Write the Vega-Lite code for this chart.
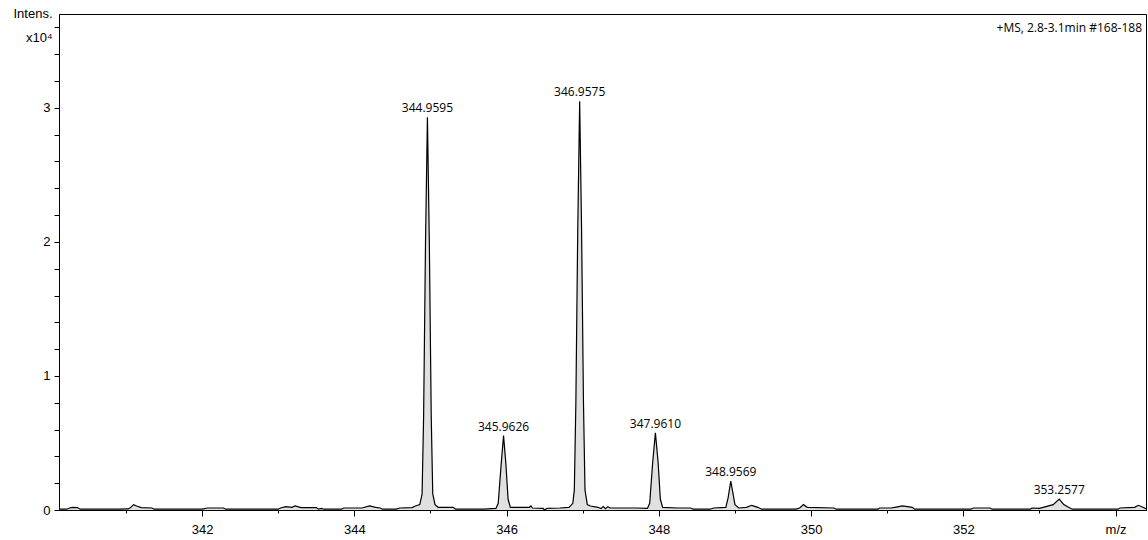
{
  "$schema": "https://vega.github.io/schema/vega-lite/v6.json",
  "width": 1087,
  "height": 496,
  "autosize": {"type": "none"},
  "padding": {"left": 59, "top": 14, "right": 2, "bottom": 30},
  "background": "white",
  "config": {
    "view": {"stroke": "black", "strokeWidth": 1},
    "axis": {"grid": false, "domainColor": "black", "tickColor": "black", "labelColor": "black", "titleColor": "black", "domainWidth": 1, "tickWidth": 1}
  },
  "title": {
    "text": "+MS, 2.8-3.1min #168-188",
    "anchor": "end",
    "frame": "group",
    "offset": -28,
    "dx": -4,
    "font": "Open Sans",
    "fontSize": 12,
    "fontWeight": "normal",
    "color": "black"
  },
  "datasets": {
    "spectrum": [
      {"mz": 340.12, "intensity": 0.006},
      {"mz": 340.22, "intensity": 0.006},
      {"mz": 340.26, "intensity": 0.015},
      {"mz": 340.30, "intensity": 0.02},
      {"mz": 340.36, "intensity": 0.018},
      {"mz": 340.40, "intensity": 0.006},
      {"mz": 340.60, "intensity": 0.006},
      {"mz": 340.90, "intensity": 0.006},
      {"mz": 341.03, "intensity": 0.008},
      {"mz": 341.06, "intensity": 0.018},
      {"mz": 341.10, "intensity": 0.04},
      {"mz": 341.14, "intensity": 0.03},
      {"mz": 341.20, "intensity": 0.018},
      {"mz": 341.34, "intensity": 0.015},
      {"mz": 341.37, "intensity": 0.006},
      {"mz": 341.70, "intensity": 0.006},
      {"mz": 342.00, "intensity": 0.006},
      {"mz": 342.07, "intensity": 0.015},
      {"mz": 342.28, "intensity": 0.015},
      {"mz": 342.31, "intensity": 0.006},
      {"mz": 342.70, "intensity": 0.006},
      {"mz": 343.00, "intensity": 0.006},
      {"mz": 343.03, "intensity": 0.015},
      {"mz": 343.10, "intensity": 0.025},
      {"mz": 343.18, "intensity": 0.02},
      {"mz": 343.22, "intensity": 0.03},
      {"mz": 343.30, "intensity": 0.018},
      {"mz": 343.50, "intensity": 0.018},
      {"mz": 343.53, "intensity": 0.006},
      {"mz": 343.57, "intensity": 0.012},
      {"mz": 343.60, "intensity": 0.006},
      {"mz": 343.83, "intensity": 0.006},
      {"mz": 343.86, "intensity": 0.015},
      {"mz": 344.10, "intensity": 0.015},
      {"mz": 344.20, "intensity": 0.03},
      {"mz": 344.28, "intensity": 0.02},
      {"mz": 344.34, "intensity": 0.015},
      {"mz": 344.37, "intensity": 0.006},
      {"mz": 344.55, "intensity": 0.006},
      {"mz": 344.60, "intensity": 0.015},
      {"mz": 344.76, "intensity": 0.018},
      {"mz": 344.80, "intensity": 0.03},
      {"mz": 344.86, "intensity": 0.04},
      {"mz": 344.89, "intensity": 0.12},
      {"mz": 344.91, "intensity": 0.7},
      {"mz": 344.935, "intensity": 2.0},
      {"mz": 344.96, "intensity": 2.93},
      {"mz": 344.985, "intensity": 2.0},
      {"mz": 345.01, "intensity": 0.7},
      {"mz": 345.03, "intensity": 0.12},
      {"mz": 345.06, "intensity": 0.04},
      {"mz": 345.10, "intensity": 0.02},
      {"mz": 345.30, "intensity": 0.02},
      {"mz": 345.33, "intensity": 0.006},
      {"mz": 345.70, "intensity": 0.006},
      {"mz": 345.86, "intensity": 0.012},
      {"mz": 345.89, "intensity": 0.05},
      {"mz": 345.93, "intensity": 0.35},
      {"mz": 345.96, "intensity": 0.555},
      {"mz": 345.99, "intensity": 0.35},
      {"mz": 346.02, "intensity": 0.08},
      {"mz": 346.05, "intensity": 0.02},
      {"mz": 346.30, "intensity": 0.02},
      {"mz": 346.32, "intensity": 0.03},
      {"mz": 346.34, "intensity": 0.015},
      {"mz": 346.48, "intensity": 0.012},
      {"mz": 346.50, "intensity": 0.0},
      {"mz": 346.53, "intensity": 0.012},
      {"mz": 346.70, "intensity": 0.015},
      {"mz": 346.82, "intensity": 0.02},
      {"mz": 346.87, "intensity": 0.05},
      {"mz": 346.89, "intensity": 0.15},
      {"mz": 346.91, "intensity": 0.8},
      {"mz": 346.935, "intensity": 2.1},
      {"mz": 346.96, "intensity": 3.05},
      {"mz": 346.985, "intensity": 2.1},
      {"mz": 347.01, "intensity": 0.8},
      {"mz": 347.03, "intensity": 0.15},
      {"mz": 347.06, "intensity": 0.04},
      {"mz": 347.10, "intensity": 0.03},
      {"mz": 347.20, "intensity": 0.02},
      {"mz": 347.24, "intensity": 0.01},
      {"mz": 347.27, "intensity": 0.025},
      {"mz": 347.30, "intensity": 0.01},
      {"mz": 347.33, "intensity": 0.025},
      {"mz": 347.36, "intensity": 0.015},
      {"mz": 347.70, "intensity": 0.015},
      {"mz": 347.85, "intensity": 0.012},
      {"mz": 347.88, "intensity": 0.05},
      {"mz": 347.92, "intensity": 0.36},
      {"mz": 347.955, "intensity": 0.575},
      {"mz": 347.99, "intensity": 0.36},
      {"mz": 348.02, "intensity": 0.08},
      {"mz": 348.05, "intensity": 0.02},
      {"mz": 348.25, "intensity": 0.015},
      {"mz": 348.42, "intensity": 0.015},
      {"mz": 348.45, "intensity": 0.006},
      {"mz": 348.68, "intensity": 0.006},
      {"mz": 348.72, "intensity": 0.015},
      {"mz": 348.88, "intensity": 0.02},
      {"mz": 348.91, "intensity": 0.09},
      {"mz": 348.945, "intensity": 0.215},
      {"mz": 348.975, "intensity": 0.12},
      {"mz": 349.00, "intensity": 0.04},
      {"mz": 349.05, "intensity": 0.015},
      {"mz": 349.15, "intensity": 0.02},
      {"mz": 349.22, "intensity": 0.035},
      {"mz": 349.30, "intensity": 0.02},
      {"mz": 349.35, "intensity": 0.006},
      {"mz": 349.80, "intensity": 0.006},
      {"mz": 349.85, "intensity": 0.015},
      {"mz": 349.90, "intensity": 0.04},
      {"mz": 349.95, "intensity": 0.02},
      {"mz": 350.30, "intensity": 0.015},
      {"mz": 350.33, "intensity": 0.006},
      {"mz": 350.88, "intensity": 0.006},
      {"mz": 350.90, "intensity": 0.015},
      {"mz": 351.05, "intensity": 0.015},
      {"mz": 351.10, "intensity": 0.02},
      {"mz": 351.20, "intensity": 0.03},
      {"mz": 351.33, "intensity": 0.02},
      {"mz": 351.36, "intensity": 0.006},
      {"mz": 352.10, "intensity": 0.006},
      {"mz": 352.13, "intensity": 0.015},
      {"mz": 352.35, "intensity": 0.015},
      {"mz": 352.38, "intensity": 0.006},
      {"mz": 352.88, "intensity": 0.006},
      {"mz": 352.90, "intensity": 0.015},
      {"mz": 353.00, "intensity": 0.012},
      {"mz": 353.05, "intensity": 0.02},
      {"mz": 353.18, "intensity": 0.04},
      {"mz": 353.26, "intensity": 0.082},
      {"mz": 353.32, "intensity": 0.04},
      {"mz": 353.40, "intensity": 0.015},
      {"mz": 353.43, "intensity": 0.006},
      {"mz": 354.03, "intensity": 0.006},
      {"mz": 354.06, "intensity": 0.015},
      {"mz": 354.25, "intensity": 0.02},
      {"mz": 354.30, "intensity": 0.035},
      {"mz": 354.36, "intensity": 0.02},
      {"mz": 354.40, "intensity": 0.01}
    ],
    "peaks": [
      {"mz": 344.96, "intensity": 2.93, "label": "344.9595"},
      {"mz": 345.96, "intensity": 0.555, "label": "345.9626"},
      {"mz": 346.96, "intensity": 3.05, "label": "346.9575"},
      {"mz": 347.955, "intensity": 0.575, "label": "347.9610"},
      {"mz": 348.945, "intensity": 0.215, "label": "348.9569"},
      {"mz": 353.26, "intensity": 0.082, "label": "353.2577"}
    ]
  },
  "encoding": {
    "x": {
      "field": "mz",
      "type": "quantitative",
      "scale": {"domain": [340.12, 354.4], "nice": false, "zero": false},
      "axis": {
        "title": null,
        "values": [341, 342, 343, 344, 345, 346, 347, 348, 349, 350, 351, 352, 353, 354],
        "labelExpr": "datum.value % 2 == 1 ? '' : (datum.value == 354 ? 'm/z' : datum.label)",
        "tickSize": {"condition": {"test": "datum.value % 2 == 1", "value": 3}, "value": 6},
        "labelFont": "Liberation Sans",
        "labelFontSize": 13,
        "labelPadding": 7,
        "labelFlush": false
      }
    },
    "y": {
      "field": "intensity",
      "type": "quantitative",
      "scale": {"domain": [0, 3.7], "nice": false},
      "axis": {
        "values": [0, 0.2, 0.4, 0.6, 0.8, 1, 1.2, 1.4, 1.6, 1.8, 2, 2.2, 2.4, 2.6, 2.8, 3, 3.2, 3.4, 3.6],
        "labelExpr": "abs(datum.value - round(datum.value)) < 0.001 ? format(datum.value, 'd') : ''",
        "tickSize": 5,
        "labelPadding": 4,
        "labelFont": "Liberation Sans",
        "labelFontSize": 13,
        "title": ["Intens.", "x10⁴"],
        "titleAngle": 0,
        "titleAlign": "right",
        "titleBaseline": "top",
        "titleX": -7,
        "titleY": -7,
        "titleFont": "Liberation Sans",
        "titleFontSize": 13,
        "titleFontWeight": "normal",
        "titleLineHeight": 24
      }
    }
  },
  "layer": [
    {
      "data": {"name": "spectrum"},
      "mark": {"type": "area", "color": "#e0e0e0", "clip": true}
    },
    {
      "data": {"name": "spectrum"},
      "mark": {"type": "line", "color": "black", "strokeWidth": 1.2, "clip": true}
    },
    {
      "data": {"name": "peaks"},
      "mark": {"type": "text", "baseline": "bottom", "dy": -2, "font": "Open Sans", "fontSize": 12, "color": "black"},
      "encoding": {"text": {"field": "label", "type": "nominal"}}
    }
  ]
}
